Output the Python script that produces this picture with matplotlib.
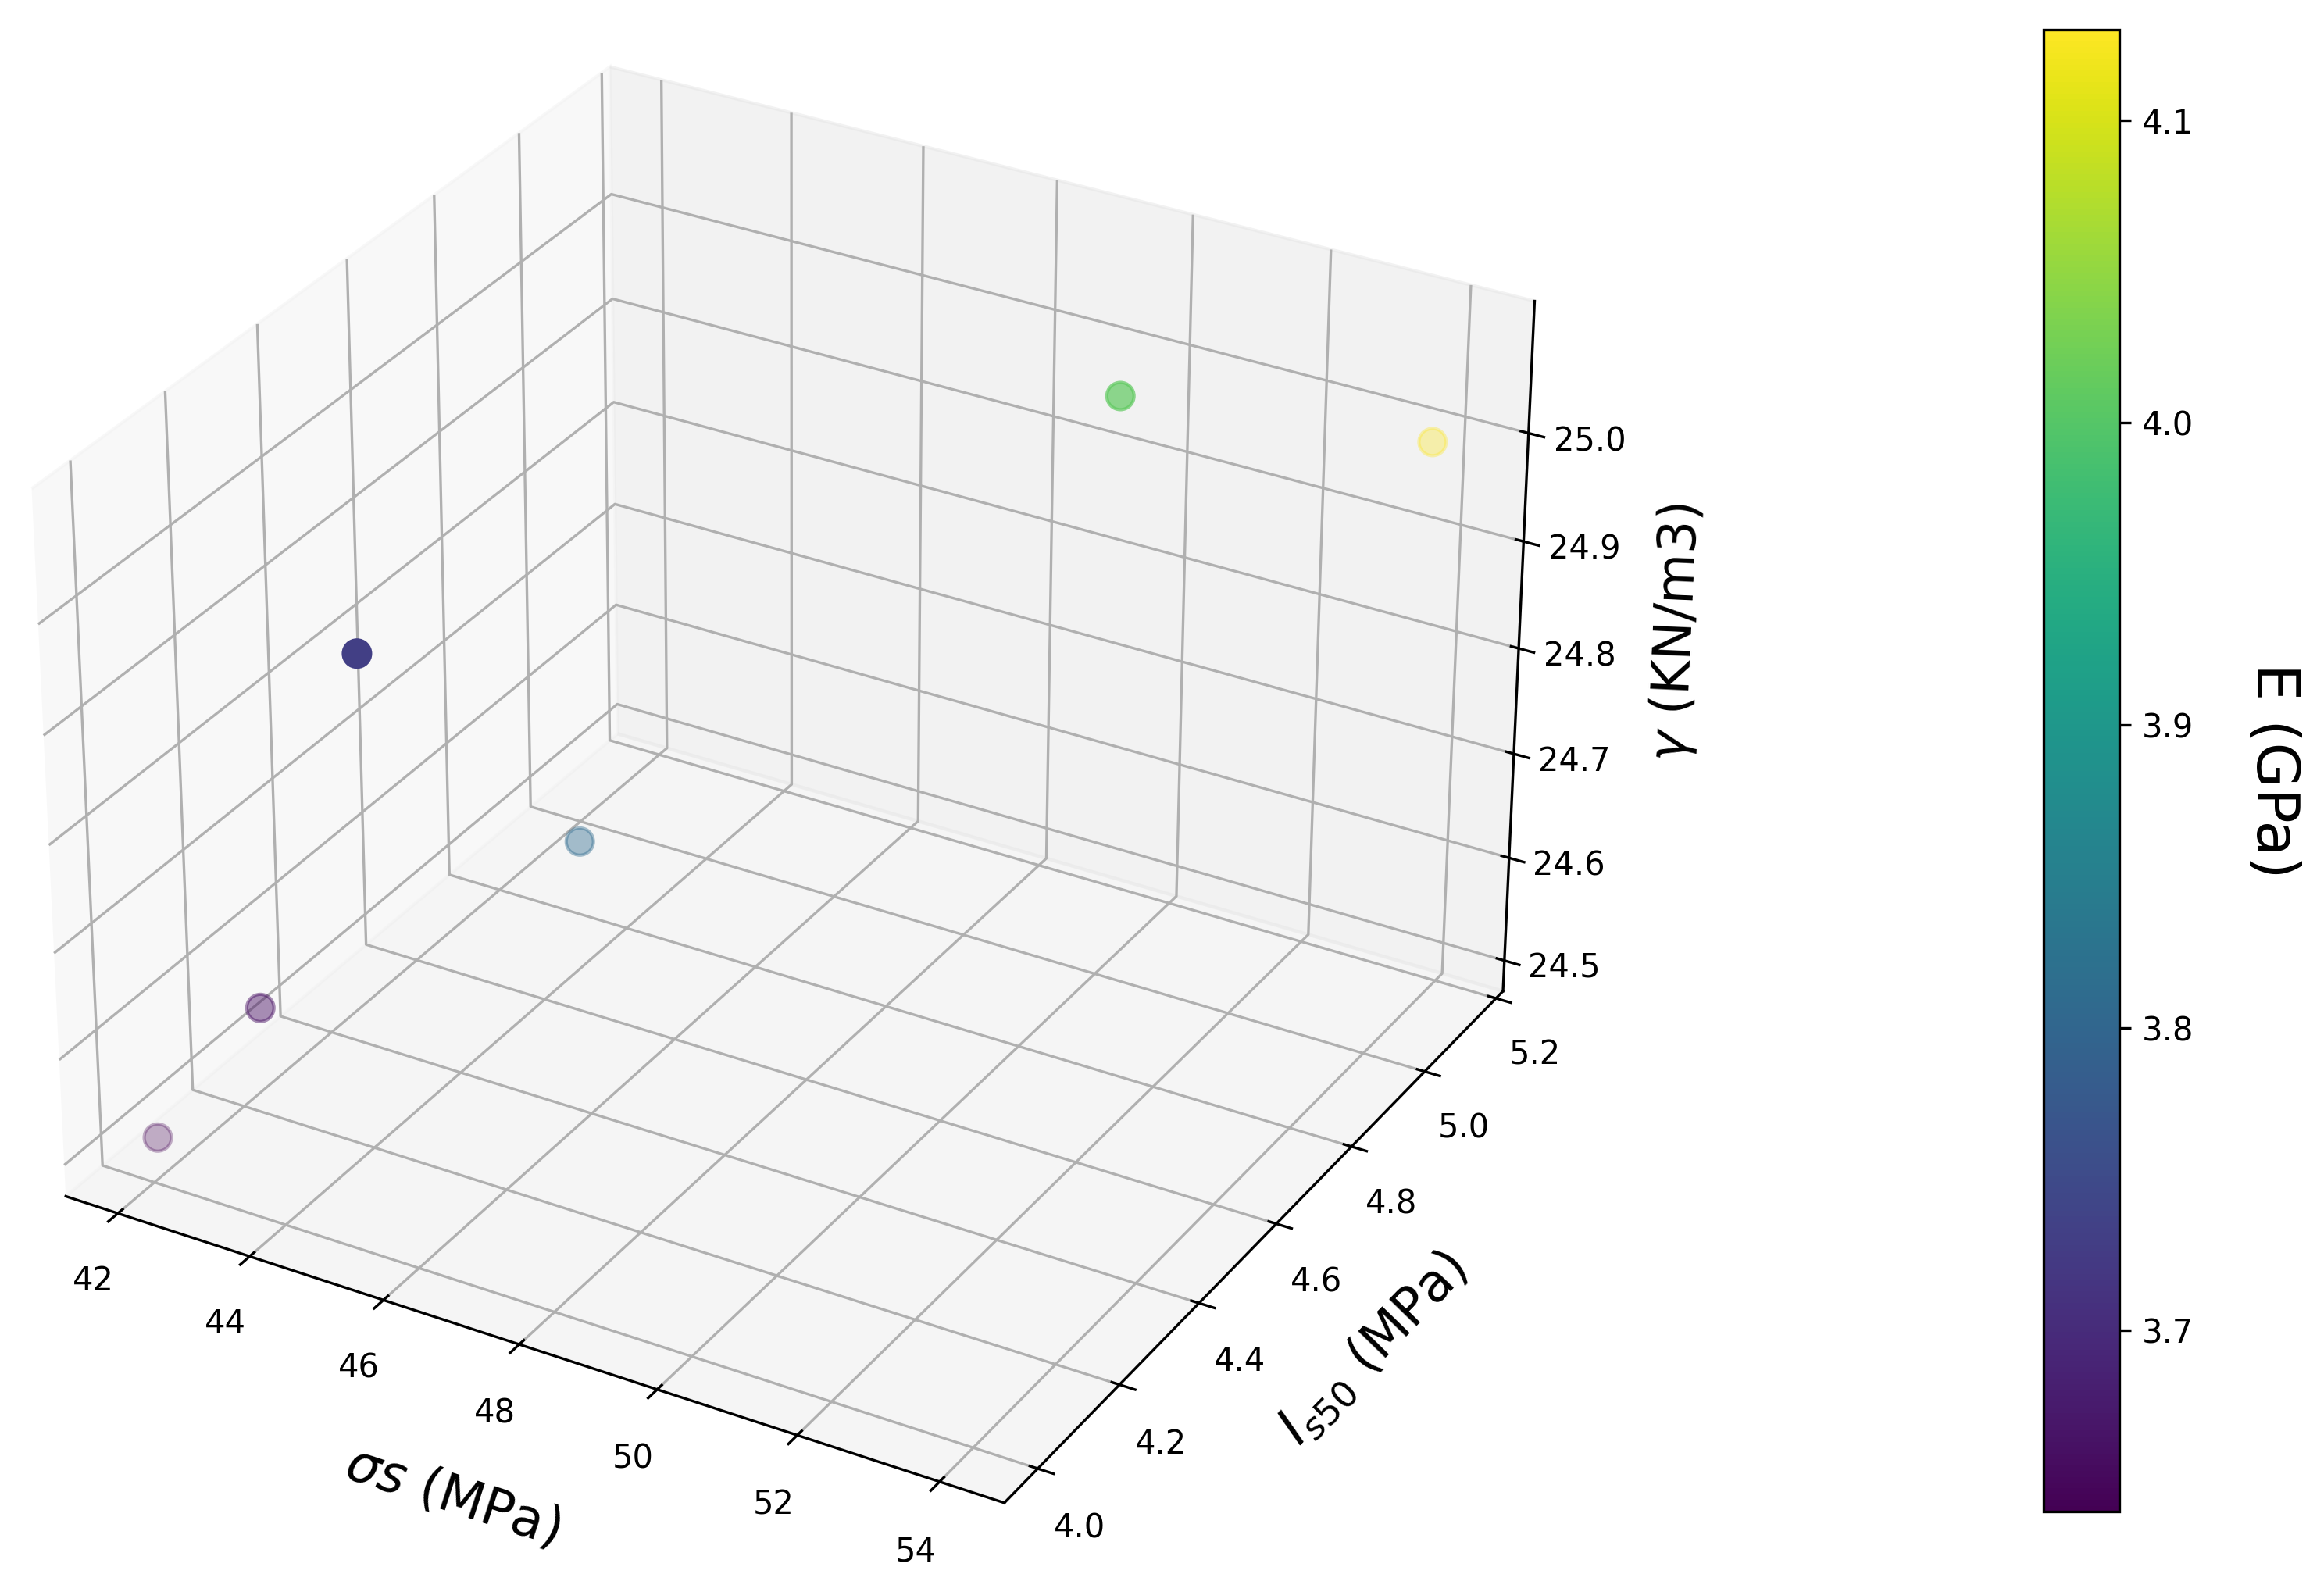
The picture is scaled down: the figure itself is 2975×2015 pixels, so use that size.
import matplotlib
matplotlib.use("Agg")
import matplotlib.pyplot as plt
import numpy as np

# Data
sigma_s = [42.3, 43.3, 44.15, 46.2, 51.15, 54.2]     # σs (MPa)
is50 = [3.97, 4.06, 4.17, 4.35, 4.83, 5.09]          # Is50 (MPa)
gamma = [24.53, 24.64, 24.945, 24.75, 25.09, 25.02]  # γ (KN/m3)
E = [3.64, 3.66, 3.73, 3.81, 4.01, 4.13]             # E (GPa)

x_ticks = [42, 44, 46, 48, 50, 52, 54]
y_ticks = [4.0, 4.2, 4.4, 4.6, 4.8, 5.0, 5.2]
z_ticks = [24.5, 24.6, 24.7, 24.8, 24.9, 25.0]
cb_ticks = [3.7, 3.8, 3.9, 4.0, 4.1]

W, H, DPI = 2975, 2015, 300
fig = plt.figure(figsize=(W / DPI, H / DPI), dpi=DPI)
ax = fig.add_axes([-0.026, -0.022, 0.719, 1.062], projection='3d')

sc = ax.scatter(sigma_s, is50, gamma, c=E, cmap='viridis', s=70, depthshade=True)

ax.set_xlim(41.2, 54.9)
ax.set_ylim(3.92, 5.22)
ax.set_zlim(24.47, 25.12)
ax.set_xticks(x_ticks)
ax.set_yticks(y_ticks)
ax.set_zticks(z_ticks)

ax.set_xlabel(r'$\sigma s$ (MPa)', fontsize=16, labelpad=12)
ax.set_ylabel(r'$I_{s50}$ (MPa)', fontsize=16, labelpad=10)
ax.set_zlabel(r'$\gamma$ (KN/m3)', fontsize=16, labelpad=9)

cax = fig.add_axes([0.8793, 0.0397, 0.0326, 0.9414])
cbar = fig.colorbar(sc, cax=cax)
cbar.set_ticks(cb_ticks)
cbar.set_label('E (GPa)', rotation=270, fontsize=18, labelpad=33)

fig.savefig('out.png', dpi=DPI)
